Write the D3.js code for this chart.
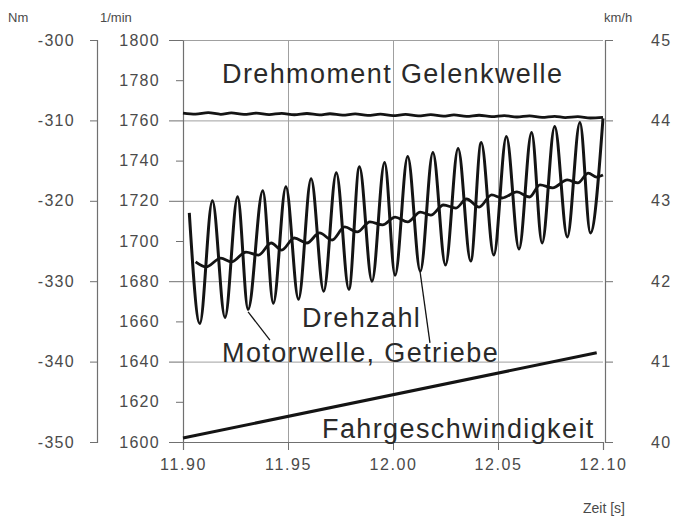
<!DOCTYPE html>
<html>
<head>
<meta charset="utf-8">
<script src="https://cdn.jsdelivr.net/npm/d3@7"></script>
<style>
  body { margin: 0; background: #fff; }
  svg { display: block; font-family: "Liberation Sans", Arial, sans-serif; }
</style>
</head>
<body>
<div id="chart"></div>
<script>
// time axis (s)
var timeTicks = [11.90, 11.95, 12.00, 12.05, 12.10];
var rpmTicks = [1600, 1620, 1640, 1660, 1680, 1700, 1720, 1740, 1760, 1780, 1800];
var nmTicks = [-350, -340, -330, -320, -310, -300];
var kmhTicks = [40, 41, 42, 43, 44, 45];

// Drehzahl Motorwelle (1/min)
var motorT = [11.903, 11.908, 11.914, 11.920, 11.926, 11.931, 11.938, 11.943, 11.949, 11.955,
              11.961, 11.967, 11.973, 11.979, 11.984, 11.990, 11.996, 12.001, 12.007, 12.013,
              12.019, 12.025, 12.031, 12.037, 12.042, 12.048, 12.054, 12.060, 12.066, 12.071,
              12.077, 12.083, 12.089, 12.094, 12.100];
var motorV = [1714, 1659, 1720, 1662, 1722, 1666, 1725, 1669, 1727, 1671,
              1731, 1675, 1734, 1676, 1737, 1680, 1739, 1683, 1742, 1685,
              1744, 1688, 1746, 1690, 1749, 1693, 1752, 1696, 1754, 1699,
              1757, 1702, 1759, 1704, 1761];

// Drehzahl Getriebe (1/min)
var gearT = [11.906, 11.911, 11.918, 11.923, 11.930, 11.936, 11.942, 11.947, 11.953, 11.959,
             11.965, 11.971, 11.977, 11.983, 11.989, 11.995, 12.001, 12.007, 12.013, 12.018,
             12.024, 12.030, 12.035, 12.041, 12.047, 12.052, 12.059, 12.065, 12.070, 12.076,
             12.083, 12.088, 12.093, 12.097, 12.100];
var gearV = [1689.6, 1687.1, 1691.5, 1689.6, 1694.5, 1693.0, 1699.0, 1695.5, 1701.5, 1699.0,
             1704.0, 1700.5, 1707.0, 1704.5, 1709.5, 1708.0, 1711.9, 1709.5, 1714.4, 1712.9,
             1717.9, 1716.4, 1720.9, 1716.9, 1722.9, 1721.4, 1724.4, 1721.9, 1727.9, 1726.4,
             1730.4, 1728.9, 1733.8, 1731.8, 1732.8];

// Drehmoment Gelenkwelle (Nm)
var torqueT = [11.900, 11.906, 11.912, 11.918, 11.923, 11.929, 11.935, 11.941, 11.947, 11.953,
               11.959, 11.965, 11.970, 11.976, 11.982, 11.988, 11.994, 12.000, 12.006, 12.012,
               12.018, 12.024, 12.029, 12.035, 12.041, 12.047, 12.053, 12.059, 12.065, 12.071,
               12.077, 12.082, 12.088, 12.094, 12.100];
var torqueV = [-309.10, -309.22, -309.04, -309.24, -309.07, -309.26, -309.09, -309.28, -309.12, -309.30,
               -309.14, -309.32, -309.17, -309.35, -309.20, -309.38, -309.23, -309.41, -309.26, -309.44,
               -309.29, -309.47, -309.32, -309.50, -309.36, -309.54, -309.40, -309.58, -309.44, -309.62,
               -309.49, -309.66, -309.54, -309.70, -309.62];

// Fahrgeschwindigkeit (km/h)
var speedT = [11.900, 12.097];
var speedV = [40.05, 41.11];

// leader lines [t1, rpm1, t2, rpm2]
var leaders = [[11.931, 1664.7, 11.9414, 1650.7], [12.0129, 1684.6, 12.0176, 1649.3]];

var W = 675, H = 518;
var pLeft = 183, pRight = 603, pTop = 40, pBottom = 442;

var svg = d3.select("#chart").append("svg").attr("width", W).attr("height", H);
svg.append("rect").attr("width", W).attr("height", H).attr("fill", "#fff");

var x = d3.scaleLinear().domain([11.90, 12.10]).range([pLeft, pRight]);
var yRpm = d3.scaleLinear().domain([1600, 1800]).range([pBottom, pTop]);
var yNm = d3.scaleLinear().domain([-350, -300]).range([pBottom, pTop]);
var yKmh = d3.scaleLinear().domain([40, 45]).range([pBottom, pTop]);

var gridCol = "#a0a0a0", axisCol = "#707070", txtCol = "#4a4a4a";
var plain = function (d) { return String(d); };   // keep ascii hyphen like the original

// grid
svg.append("g").attr("transform", "translate(" + pLeft + ",0)")
    .call(d3.axisLeft(yRpm).tickValues([1640, 1680, 1720, 1760, 1800]).tickSize(-(pRight - pLeft)).tickFormat(""))
    .call(function (g) { g.select(".domain").remove(); g.selectAll("line").attr("stroke", gridCol); });
svg.append("g").attr("transform", "translate(0," + pBottom + ")")
    .call(d3.axisBottom(x).tickValues([11.95, 12.00, 12.05]).tickSize(-(pBottom - pTop)).tickFormat(""))
    .call(function (g) { g.select(".domain").remove(); g.selectAll("line").attr("stroke", gridCol); });

// x axis
var xa = svg.append("g").attr("transform", "translate(0," + pBottom + ")")
    .call(d3.axisBottom(x).tickValues(timeTicks).tickSize(8).tickPadding(9).tickFormat(d3.format(".2f")));
xa.select(".domain").attr("stroke", axisCol).attr("stroke-width", 1.2);
xa.selectAll("line").attr("stroke", axisCol);
xa.selectAll("text").attr("fill", txtCol).style("font-size", "16px").style("letter-spacing", "1.6px");

// 1/min axis
var ya = svg.append("g").attr("transform", "translate(" + pLeft + ",0)")
    .call(d3.axisLeft(yRpm).tickValues(rpmTicks).tickSizeOuter(0).tickPadding(17).tickFormat(plain));
ya.select(".domain").attr("stroke", axisCol).attr("stroke-width", 1.2);
ya.selectAll(".tick line").attr("stroke", axisCol)
    .attr("x2", function (d) { return (d % 40 === 0) ? -14 : -7; });
ya.selectAll("text").attr("fill", txtCol).style("font-size", "16px").style("letter-spacing", "1.3px");

// Nm axis
var na = svg.append("g").attr("transform", "translate(97,0)")
    .call(d3.axisLeft(yNm).tickValues(nmTicks).tickSizeOuter(0).tickSize(7).tickPadding(15).tickFormat(plain));
na.select(".domain").attr("stroke", axisCol).attr("stroke-width", 1.2);
na.selectAll("line").attr("stroke", axisCol);
na.selectAll("text").attr("fill", txtCol).style("font-size", "16px").style("letter-spacing", "1.3px");

// km/h axis
var ka = svg.append("g").attr("transform", "translate(" + (pRight + 2) + ",0)")
    .call(d3.axisRight(yKmh).tickValues(kmhTicks).tickSizeOuter(0).tickSize(8).tickPadding(38).tickFormat(plain));
ka.select(".domain").attr("stroke", axisCol).attr("stroke-width", 1.2);
ka.selectAll("line").attr("stroke", axisCol);
ka.selectAll("text").attr("fill", txtCol).style("font-size", "16px").style("letter-spacing", "1.3px");

// unit labels
svg.append("text").attr("x", 8).attr("y", 22).text("Nm").attr("fill", txtCol).style("font-size", "13px");
svg.append("text").attr("x", 100).attr("y", 22).text("1/min").attr("fill", txtCol).style("font-size", "13px");
svg.append("text").attr("x", 604).attr("y", 22).text("km/h").attr("fill", txtCol).style("font-size", "13px");
svg.append("text").attr("x", 583).attr("y", 513).text("Zeit [s]").attr("fill", txtCol).style("font-size", "14px");

// series
var lineCol = "#141414";
function draw(ts, vs, ys, w, curve) {
    var pts = ts.map(function (t, i) { return [t, vs[i]]; });
    var gen = d3.line().x(function (d) { return x(d[0]); }).y(function (d) { return ys(d[1]); })
        .curve(curve || d3.curveLinear);
    svg.append("path").datum(pts).attr("d", gen)
        .attr("fill", "none").attr("stroke", lineCol).attr("stroke-width", w).attr("stroke-linejoin", "round");
}
draw(torqueT, torqueV, yNm, 2.8, d3.curveMonotoneX);
draw(speedT, speedV, yKmh, 3);
draw(gearT, gearV, yRpm, 2.8, d3.curveMonotoneX);
draw(motorT, motorV, yRpm, 3, d3.curveMonotoneX);

leaders.forEach(function (l) {
    svg.append("line").attr("x1", x(l[0])).attr("y1", yRpm(l[1])).attr("x2", x(l[2])).attr("y2", yRpm(l[3]))
        .attr("stroke", lineCol).attr("stroke-width", 1.3);
});

// annotations
var ann = [
    ["Drehmoment Gelenkwelle", 222, 83],
    ["Drehzahl", 302, 327],
    ["Motorwelle, Getriebe", 222, 362],
    ["Fahrgeschwindigkeit", 322, 438]
];
ann.forEach(function (a) {
    svg.append("text").attr("x", a[1]).attr("y", a[2]).text(a[0])
        .attr("fill", "#2a2a2a").style("font-size", "27px").style("letter-spacing", "1.4px");
});
</script>
</body>
</html>
